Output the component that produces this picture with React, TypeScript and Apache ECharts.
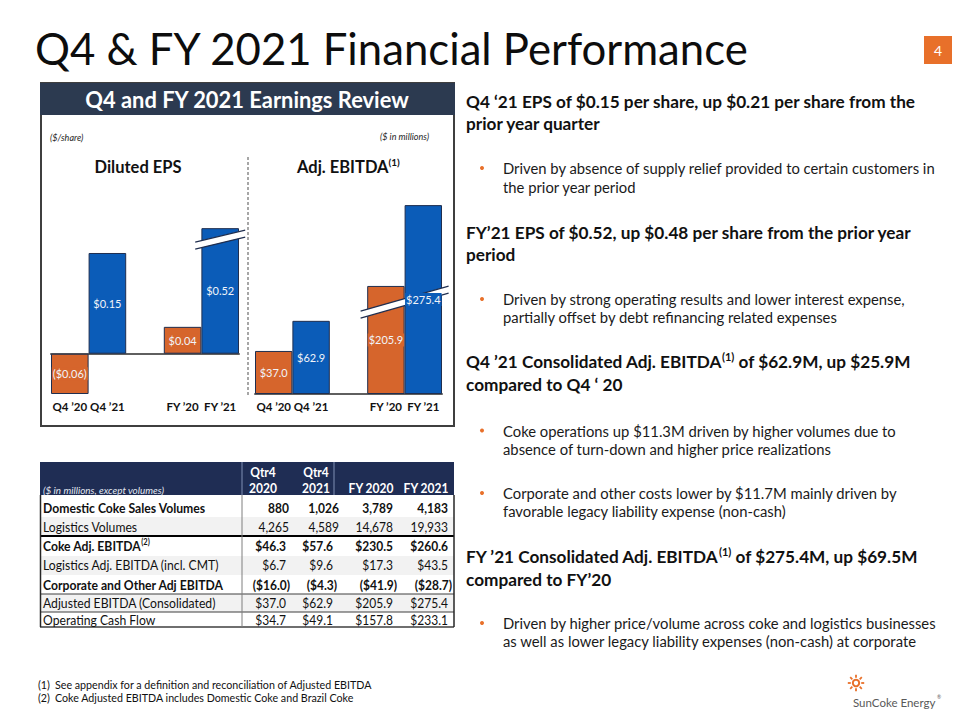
import React, { useEffect, useRef } from 'react';
import * as echarts from 'echarts';

const FONT = 'Lato, "Noto Sans", "DejaVu Sans", sans-serif';

// ---- bar charts ----
const periods = ['Q4 ’20', 'Q4 ’21', 'FY ’20', 'FY ’21'];
const periodIsPrior = [true, false, true, false];
const epsValues = [-0.06, 0.15, 0.04, 0.52];
const ebitdaValues = [37.0, 62.9, 205.9, 275.4];

// broken value axes (tall bars are drawn with a break)
const epsAxis = { min: -0.06, max: 0.55, breakStart: 0.165, breakEnd: 0.508, gap: 0.01 };
const ebitdaAxis = { min: 0, max: 300, breakStart: 78, breakEnd: 193, gap: 2 };

// ---- summary table ----
const tableHeadTop = ['Qtr4', 'Qtr4', '', ''];
const tableHeadBottom = ['2020', '2021', 'FY 2020', 'FY 2021'];
const tableLabels = [
  'Domestic Coke Sales Volumes',
  'Logistics Volumes',
  'Coke Adj. EBITDA',
  'Logistics Adj. EBITDA (incl. CMT)',
  'Corporate and Other Adj EBITDA',
  'Adjusted EBITDA (Consolidated)',
  'Operating Cash Flow',
];
const tableNotes = ['', '', '(2)', '', '', '', ''];
const tableBold = [true, false, true, false, true, false, false];
const tableIsVolume = [true, true, false, false, false, false, false];
const q4_2020 = [880, 4265, 46.3, 6.7, -16.0, 37.0, 34.7];
const q4_2021 = [1026, 4589, 57.6, 9.6, -4.3, 62.9, 49.1];
const fy_2020 = [3789, 14678, 230.5, 17.3, -41.9, 205.9, 157.8];
const fy_2021 = [4183, 19933, 260.6, 43.5, -28.7, 275.4, 233.1];
const tableColumns = [q4_2020, q4_2021, fy_2020, fy_2021];

// ---- commentary ----
type Block = { kind: 'head' | 'bullet'; lines: string[] };
const commentary: Block[] = [
  { kind: 'head', lines: ['Q4 ‘21 EPS of $0.15 per share, up $0.21 per share from the', 'prior year quarter'] },
  { kind: 'bullet', lines: ['Driven by absence of supply relief provided to certain customers in', 'the prior year period'] },
  { kind: 'head', lines: ['FY’21 EPS of $0.52, up $0.48 per share from the prior year', 'period'] },
  { kind: 'bullet', lines: ['Driven by strong operating results and lower interest expense,', 'partially offset by debt refinancing related expenses'] },
  { kind: 'head', lines: ['Q4 ’21 Consolidated Adj. EBITDA{s|(1)} of $62.9M, up $25.9M', 'compared to Q4 ‘ 20'] },
  { kind: 'bullet', lines: ['Coke operations up $11.3M driven by higher volumes due to', 'absence of turn-down and higher price realizations'] },
  { kind: 'bullet', lines: ['Corporate and other costs lower by $11.7M mainly driven by', 'favorable legacy liability expense (non-cash)'] },
  { kind: 'head', lines: ['FY ’21 Consolidated Adj. EBITDA{s|(1)} of $275.4M, up $69.5M', 'compared to FY’20'] },
  { kind: 'bullet', lines: ['Driven by higher price/volume across coke and logistics businesses', 'as well as lower legacy liability expenses (non-cash) at corporate'] },
];
const footnotes = [
  ['(1)', 'See appendix for a definition and reconciliation of Adjusted EBITDA'],
  ['(2)', 'Coke Adjusted EBITDA includes Domestic Coke and Brazil Coke'],
];

// ---- colours ----
const ORANGE = '#D6652C';
const BLUE = '#0B5CB8';
const OUTLINE = '#1F2E4F';
const PANEL_HEAD = '#2C3A50';
const TABLE_HEAD = '#1F2D54';
const ACCENT = '#E8702A';
const INK = '#111111';

// ---- layout ----
const BASELINE_Y = 394;
const EPS_GRID = { left: 51, right: 960 - 239, top: 208, bottom: 720 - BASELINE_Y };
const EBITDA_GRID = { left: 255, right: 960 - 442, top: 176.5, bottom: 720 - BASELINE_Y };
const blockLineY = [
  [101, 123], [168, 187], [232, 254], [299, 317], [361.5, 384],
  [430.5, 448.5], [493, 511], [556, 579], [623, 641],
];
const TABLE = { left: 40, right: 454, sep: 242, headTop: 462, headBottom: 495, bottom: 627 };
const rowTops = [495, 517, 536, 556, 575, 594, 612];
const rowTextY = [508, 527, 546, 565, 585, 603, 620];
const headCenters = [263, 316, 371, 426];
const usdRight = [286, 333, 393, 448];
const volRight = [289, 339, 393, 448];
const TABLE_SQUEEZE = 0.89;

// slot order on the category axis: two periods, a spacer, two periods
const slotIndex = [0, 1, -1, 2, 3];
const slotNames = slotIndex.map((i) => (i < 0 ? ' ' : periods[i]));

const fmtEps = (v: number) => (v < 0 ? `($${Math.abs(v).toFixed(2)})` : `$${v.toFixed(2)}`);
const fmtMoney = (v: number) => `$${v.toFixed(1)}`;
const fmtUsdCell = (v: number) => (v < 0 ? `($${Math.abs(v).toFixed(1)})` : `$${v.toFixed(1)}`);
const fmtVolCell = (v: number) => v.toLocaleString('en-US');

function text(x: number, y: number, t: string, size: number, o: any = {}) {
  return {
    type: 'text',
    x,
    y,
    scaleX: o.scaleX ?? 1,
    z: o.z ?? 5,
    style: {
      text: t,
      fontFamily: FONT,
      fontSize: size,
      fontWeight: o.weight ?? 'normal',
      fontStyle: o.italic ? 'italic' : 'normal',
      fill: o.color ?? INK,
      align: o.align ?? 'left',
      verticalAlign: 'middle',
      lineHeight: o.lineHeight,
      rich: o.rich,
    },
  };
}

const sup = (size: number, weight: string, color: string) => ({
  s: { fontFamily: FONT, fontSize: size, fontWeight: weight, fill: color, verticalAlign: 'top' },
});

function line(x1: number, y1: number, x2: number, y2: number, stroke: string, lineWidth: number, z = 4, dash?: number[]) {
  return { type: 'line', z, shape: { x1, y1, x2, y2 }, style: { stroke, lineWidth, lineDash: dash } };
}

function rect(x: number, y: number, width: number, height: number, style: any, z = 1) {
  return { type: 'rect', z, shape: { x, y, width, height }, style };
}

function barData(values: number[], labelOnly: boolean) {
  return slotIndex.map((i) => {
    if (i < 0) return null;
    const color = periodIsPrior[i] ? ORANGE : BLUE;
    return labelOnly
      ? {
          value: values[i],
          itemStyle: { color: 'rgba(0,0,0,0)', borderWidth: 0 },
          label: { backgroundColor: color, padding: [1, 1] },
        }
      : { value: values[i], itemStyle: { color, borderColor: OUTLINE, borderWidth: 1 } };
  });
}

function valueAxis(gridIndex: number, a: any) {
  return {
    type: 'value',
    gridIndex,
    min: a.min,
    max: a.max,
    breaks: [{ start: a.breakStart, end: a.breakEnd, gap: a.gap }],
    breakArea: { show: false },
    axisLabel: { show: false },
    axisLine: { show: false },
    axisTick: { show: false },
    splitLine: { show: false },
  };
}

function catAxis(gridIndex: number, showLine: boolean, onZero: boolean, showLabel: boolean) {
  return {
    type: 'category',
    gridIndex,
    data: slotNames,
    position: 'bottom',
    axisLine: { show: showLine, onZero, lineStyle: { color: '#5f5f5f', width: 2 } },
    axisTick: { show: false },
    splitLine: { show: false },
    axisLabel: {
      show: showLabel,
      interval: 0,
      margin: 6,
      fontFamily: FONT,
      fontWeight: 'bold',
      fontSize: 11.5,
      color: INK,
    },
  };
}

function barSeries(values: number[], xAxisIndex: number, yAxisIndex: number, fmt: (v: number) => string, labelOnly: boolean) {
  return {
    type: 'bar',
    xAxisIndex,
    yAxisIndex,
    barWidth: '100%',
    z: labelOnly ? 6 : 2,
    zlevel: labelOnly ? 1 : 0,
    silent: true,
    data: barData(values, labelOnly),
    label: {
      show: labelOnly,
      position: 'inside',
      color: '#F1F4F9',
      fontFamily: FONT,
      fontSize: 11,
      formatter: (p: any) => fmt(p.value),
    },
  };
}

function staticGraphics() {
  const g: any[] = [];

  // slide title and page number
  g.push(text(35, 47.5, 'Q4 & FY 2021 Financial Performance', 43.7, { color: '#0D0D0D' }));
  g.push(rect(924, 36, 28, 28, { fill: ACCENT }));
  g.push(text(938, 50, '4', 14, { color: '#FFFFFF', align: 'center' }));

  // earnings review panel
  g.push(rect(41, 83, 413, 343, { fill: '#FFFFFF', stroke: '#3F3F3F', lineWidth: 2 }, 0));
  g.push(rect(40, 83, 415, 32, { fill: PANEL_HEAD }, 1));
  g.push(text(247, 99.5, 'Q4 and FY 2021 Earnings Review', 21.9, { weight: 'bold', color: '#FFFFFF', align: 'center' }));
  g.push(text(50, 137, '($/share)', 9, { italic: true, color: '#262626' }));
  g.push(text(429, 136, '($ in millions)', 9, { italic: true, color: '#262626', align: 'right' }));
  g.push(text(138, 167, 'Diluted EPS', 16.5, { weight: 'bold', align: 'center' }));
  g.push(
    text(297, 167, 'Adj. EBITDA{s|(1)}', 16.5, {
      weight: 'bold',
      lineHeight: 20,
      rich: sup(10, 'bold', INK),
    })
  );
  g.push(line(248, 157, 248, 395, '#8A8A8A', 1.5, 1, [3, 2]));

  // summary table
  const T = TABLE;
  g.push(rect(T.left, T.headTop, T.right - T.left, T.headBottom - T.headTop, { fill: TABLE_HEAD }, 1));
  g.push(line(T.sep, T.headTop, T.sep, T.headBottom, '#8090B4', 1, 2));
  g.push(line(334, T.headTop, 334, T.headBottom, '#8090B4', 1, 2));
  tableHeadTop.forEach((h, c) => {
    if (h) g.push(text(headCenters[c], 472, h, 13.5, { weight: 'bold', color: '#FFFFFF', align: 'center', scaleX: TABLE_SQUEEZE }));
    g.push(text(headCenters[c], 488, tableHeadBottom[c], 13.5, { weight: 'bold', color: '#FFFFFF', align: 'center', scaleX: TABLE_SQUEEZE }));
  });
  g.push(text(43, 490, '($ in millions, except volumes)', 9.9, { italic: true, color: '#E3E8F2' }));

  tableLabels.forEach((label, r) => {
    const top = rowTops[r];
    const bottom = r + 1 < rowTops.length ? rowTops[r + 1] : T.bottom;
    g.push(rect(T.left, top, T.right - T.left, bottom - top, { fill: r % 2 === 1 ? '#F2F2F2' : '#FFFFFF' }, 1));
    const weight = tableBold[r] ? 'bold' : 'normal';
    const note = tableNotes[r] ? `{s|${tableNotes[r]}}` : '';
    g.push(
      text(43, rowTextY[r], label + note, 13.7, {
        weight,
        lineHeight: 17,
        rich: sup(8.5, 'bold', INK),
        scaleX: TABLE_SQUEEZE,
      })
    );
    tableColumns.forEach((col, c) => {
      const v = col[r];
      let x: number;
      let s: string;
      if (tableIsVolume[r]) {
        x = volRight[c];
        s = fmtVolCell(v);
      } else {
        x = usdRight[c] + (v < 0 ? 4 : 0);
        s = fmtUsdCell(v);
      }
      g.push(text(x, rowTextY[r], s, 13.5, { weight, align: 'right', scaleX: TABLE_SQUEEZE }));
    });
  });
  g.push(line(T.left, 536, T.right, 536, '#000000', 2));
  g.push(line(T.left, 594, T.right, 594, '#3F3F3F', 1));
  g.push(line(T.left, 612, T.right, 612, '#3F3F3F', 1));
  g.push(line(T.left, T.bottom, T.right, T.bottom, '#3F3F3F', 1.5));
  g.push(line(T.left + 0.5, T.headBottom, T.left + 0.5, T.bottom, '#262626', 1.5));
  g.push(line(T.right, T.headBottom, T.right, T.bottom, '#262626', 1.5));
  g.push(line(T.sep, T.headBottom, T.sep, T.bottom, '#7F7F7F', 1));

  // commentary on the right
  commentary.forEach((b, i) => {
    b.lines.forEach((ln, j) => {
      const y = blockLineY[i][j];
      if (b.kind === 'head') {
        g.push(text(466, y, ln, 17.2, { weight: 'bold', lineHeight: 21, rich: sup(11, 'bold', INK) }));
      } else {
        if (j === 0) g.push({ type: 'circle', z: 5, shape: { cx: 482, cy: y, r: 2 }, style: { fill: ACCENT } });
        g.push(text(503, y, ln, 14.8, { color: '#1A1A1A' }));
      }
    });
  });

  // footnotes
  footnotes.forEach(([n, t], i) => {
    const y = 684 + i * 13.5;
    g.push(text(38, y, n, 10.7, { color: INK }));
    g.push(text(55, y, t, 10.7, { color: INK }));
  });

  // company mark
  const cx = 856;
  const cy = 683;
  g.push({ type: 'circle', z: 5, shape: { cx, cy, r: 3.2 }, style: { fill: 'none', stroke: ACCENT, lineWidth: 2 } });
  for (let k = 0; k < 8; k++) {
    const a = (Math.PI / 4) * k;
    g.push(line(cx + Math.cos(a) * 5.2, cy + Math.sin(a) * 5.2, cx + Math.cos(a) * 8.2, cy + Math.sin(a) * 8.2, ACCENT, 1.8, 5));
  }
  g.push(text(853, 702, 'SunCoke Energy', 11.5, { color: '#595959' }));
  g.push(text(937, 697, '®', 5, { color: '#595959' }));

  return g;
}

// white slanted band across a broken bar, placed from the axis' own break position
function breakMark(chart: any, xAxisIndex: number, yAxisIndex: number, a: any, slotA: number, slotB: number, halfLen: number, slope: number, id: string) {
  const lo = chart.convertToPixel({ xAxisIndex, yAxisIndex }, [slotA, a.breakStart]);
  const hi = chart.convertToPixel({ xAxisIndex, yAxisIndex }, [slotB, a.breakEnd]);
  const cx = (lo[0] + hi[0]) / 2;
  const cy = (lo[1] + hi[1]) / 2;
  const t = 3.5;
  const x0 = cx - halfLen;
  const x1 = cx + halfLen;
  const y0 = cy - slope * halfLen;
  const y1 = cy + slope * halfLen;
  return [
    {
      type: 'polygon',
      id: id + '-fill',
      z: 4,
      shape: { points: [[x0, y0 - t], [x1, y1 - t], [x1, y1 + t], [x0, y0 + t]] },
      style: { fill: '#FFFFFF' },
    },
    { ...line(x0, y0 - t, x1, y1 - t, OUTLINE, 1.2, 4), id: id + '-top' },
    { ...line(x0, y0 + t, x1, y1 + t, OUTLINE, 1.2, 4), id: id + '-bottom' },
  ];
}

export default function App() {
  const ref = useRef<HTMLDivElement>(null);

  useEffect(() => {
    const chart = echarts.init(ref.current as HTMLDivElement, null, { renderer: 'svg' });
    chart.setOption({
      animation: false,
      backgroundColor: '#FFFFFF',
      grid: [
        { ...EPS_GRID, containLabel: false },
        { ...EBITDA_GRID, containLabel: false },
      ],
      xAxis: [
        catAxis(0, true, true, false),
        catAxis(0, false, false, true),
        catAxis(1, true, false, true),
        catAxis(1, false, false, false),
      ],
      yAxis: [valueAxis(0, epsAxis), valueAxis(1, ebitdaAxis)],
      series: [
        barSeries(epsValues, 0, 0, fmtEps, false),
        barSeries(epsValues, 1, 0, fmtEps, true),
        barSeries(ebitdaValues, 2, 1, fmtMoney, false),
        barSeries(ebitdaValues, 3, 1, fmtMoney, true),
      ],
    });

    const marks = [
      ...breakMark(chart, 0, 0, epsAxis, 4, 4, 25, -0.24, 'eps-break'),
      ...breakMark(chart, 2, 1, ebitdaAxis, 3, 4, 44, -0.285, 'ebitda-break'),
    ];
    chart.setOption({ graphic: { elements: [...staticGraphics(), ...marks] } });

    return () => chart.dispose();
  }, []);

  return (
    <div
      ref={ref}
      style={{ position: 'absolute', left: 0, top: 0, width: 960, height: 720, background: '#FFFFFF' }}
    />
  );
}
